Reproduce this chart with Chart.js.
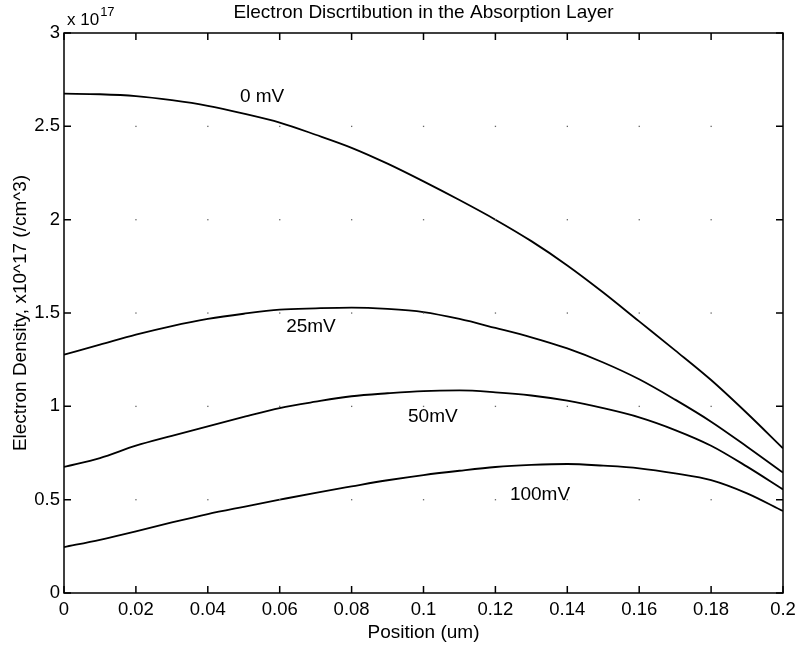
<!DOCTYPE html>
<html>
<head>
<meta charset="utf-8">
<script src="https://cdn.jsdelivr.net/npm/chart.js@4/dist/chart.umd.min.js"></script>
<style>
  html, body { margin: 0; padding: 0; background: #fff; }
  #wrap { width: 798px; height: 645px; }
</style>
</head>
<body>
<div id="wrap"><canvas id="chart" width="798" height="645"></canvas></div>
<script>
// position along the absorption layer (um)
var positions = [0, 0.01, 0.02, 0.03, 0.04, 0.05, 0.06, 0.07, 0.08, 0.09, 0.1,
                 0.11, 0.12, 0.13, 0.14, 0.15, 0.16, 0.17, 0.18, 0.19, 0.2];

// electron density, x10^17 /cm^3
var density0mV   = [2.675, 2.672, 2.662, 2.64, 2.61, 2.568, 2.52, 2.455, 2.385, 2.30, 2.205,
                    2.105, 2.0, 1.885, 1.755, 1.61, 1.455, 1.30, 1.141, 0.963, 0.775];
var density25mV  = [1.277, 1.33, 1.384, 1.43, 1.468, 1.496, 1.518, 1.525, 1.529, 1.522, 1.505,
                    1.468, 1.42, 1.37, 1.31, 1.235, 1.145, 1.036, 0.918, 0.784, 0.645];
var density50mV  = [0.675, 0.723, 0.789, 0.842, 0.893, 0.943, 0.991, 1.025, 1.054, 1.07, 1.082,
                    1.085, 1.075, 1.058, 1.03, 0.99, 0.941, 0.873, 0.789, 0.677, 0.555];
var density100mV = [0.246, 0.285, 0.33, 0.378, 0.423, 0.462, 0.5, 0.537, 0.571, 0.604, 0.632,
                    0.655, 0.675, 0.686, 0.691, 0.682, 0.668, 0.641, 0.605, 0.534, 0.439];

var xTicks = [0, 0.02, 0.04, 0.06, 0.08, 0.1, 0.12, 0.14, 0.16, 0.18, 0.2];
var yTicks = [0, 0.5, 1, 1.5, 2, 2.5, 3];

var curveNames = ["0 mV", "25mV", "50mV", "100mV"];
// where each curve name is written, in data units
var nameAt = [[0.0551, 2.657], [0.0687, 1.425], [0.1026, 0.943], [0.1324, 0.525]];

var titleText = "Electron Discrtibution in the Absorption Layer";

var FONT = "'Liberation Sans', Arial, Helvetica, sans-serif";

function pairs(ys) {
    var out = [];
    for (var i = 0; i < positions.length; i++) {
        out.push({ x: positions[i], y: ys[i] });
    }
    return out;
}

function series(label, ys) {
    return {
        label: label,
        data: pairs(ys),
        borderColor: "#000",
        borderWidth: 1.8,
        pointRadius: 0,
        fill: false,
        cubicInterpolationMode: "monotone"
    };
}

function fmt(v) {
    return String(Number(v.toFixed(3)));
}

// frame, inward ticks, faint grid dots, title, curve names, exponent
var decorations = {
    id: "decorations",
    afterDraw: function (chart) {
        var ctx = chart.ctx;
        var a = chart.chartArea;
        var xs = chart.scales.x;
        var ys = chart.scales.y;
        var tl = 7;

        ctx.save();

        // grid dots
        ctx.fillStyle = "#666";
        xTicks.forEach(function (xv) {
            yTicks.forEach(function (yv) {
                var px = xs.getPixelForValue(xv);
                var py = ys.getPixelForValue(yv);
                if (px > a.left + 2 && px < a.right - 2 && py > a.top + 2 && py < a.bottom - 2) {
                    ctx.fillRect(px - 0.6, py - 0.6, 1.3, 1.3);
                }
            });
        });

        ctx.strokeStyle = "#000";
        ctx.lineWidth = 1.5;
        ctx.strokeRect(a.left, a.top, a.right - a.left, a.bottom - a.top);

        ctx.beginPath();
        xTicks.forEach(function (v) {
            var px = xs.getPixelForValue(v);
            ctx.moveTo(px, a.bottom); ctx.lineTo(px, a.bottom - tl);
            ctx.moveTo(px, a.top); ctx.lineTo(px, a.top + tl);
        });
        yTicks.forEach(function (v) {
            var py = ys.getPixelForValue(v);
            ctx.moveTo(a.left, py); ctx.lineTo(a.left + tl, py);
            ctx.moveTo(a.right, py); ctx.lineTo(a.right - tl, py);
        });
        ctx.stroke();

        ctx.fillStyle = "#000";
        ctx.textAlign = "center";
        ctx.textBaseline = "middle";

        ctx.font = "19px " + FONT;
        ctx.fillText(titleText, (a.left + a.right) / 2, 13);

        for (var i = 0; i < curveNames.length; i++) {
            ctx.fillText(curveNames[i], xs.getPixelForValue(nameAt[i][0]), ys.getPixelForValue(nameAt[i][1]));
        }

        // x 10^17 above the y axis
        ctx.textAlign = "left";
        ctx.textBaseline = "alphabetic";
        ctx.font = "17px " + FONT;
        ctx.fillText("x 10", a.left + 3, a.top - 8);
        var w = ctx.measureText("x 10").width;
        ctx.font = "13px " + FONT;
        ctx.fillText("17", a.left + 3 + w + 1, a.top - 17);

        ctx.restore();
    }
};

var ctx = document.getElementById("chart").getContext("2d");

var config = {
    type: "line",
    data: {
        datasets: [
            series("0 mV", density0mV),
            series("25mV", density25mV),
            series("50mV", density50mV),
            series("100mV", density100mV)
        ]
    },
    options: {
        responsive: false,
        animation: false,
        layout: { padding: { top: 33, right: 15, bottom: 0, left: 0 } },
        plugins: {
            legend: { display: false },
            tooltip: { enabled: false },
            title: { display: false }
        },
        scales: {
            x: {
                type: "linear",
                min: 0,
                max: 0.2,
                grid: { display: false, drawTicks: false },
                border: { display: false },
                afterBuildTicks: function (scale) {
                    scale.ticks = xTicks.map(function (v) { return { value: v }; });
                },
                afterFit: function (scale) {
                    scale.height = 52;
                    scale.paddingLeft = 0;
                    scale.paddingRight = 0;
                },
                ticks: {
                    color: "#000",
                    font: { family: FONT, size: 18.5 },
                    padding: 6,
                    maxRotation: 0,
                    autoSkip: false,
                    callback: function (v) { return fmt(v); }
                },
                title: {
                    display: true,
                    text: "Position (um)",
                    color: "#000",
                    font: { family: FONT, size: 19 },
                    padding: { top: 0, bottom: 1 }
                }
            },
            y: {
                type: "linear",
                min: 0,
                max: 3,
                grid: { display: false, drawTicks: false },
                border: { display: false },
                afterBuildTicks: function (scale) {
                    scale.ticks = yTicks.map(function (v) { return { value: v }; });
                },
                afterFit: function (scale) {
                    scale.width = 64;
                    scale.paddingTop = 0;
                    scale.paddingBottom = 0;
                },
                ticks: {
                    color: "#000",
                    font: { family: FONT, size: 18.5 },
                    padding: 4,
                    autoSkip: false,
                    callback: function (v) { return fmt(v); }
                },
                title: {
                    display: true,
                    text: "Electron Density, x10^17 (/cm^3)",
                    color: "#000",
                    font: { family: FONT, size: 19 },
                    padding: { top: 9, bottom: 0 }
                }
            }
        }
    },
    plugins: [decorations]
};

new Chart(ctx, config);
</script>
</body>
</html>
